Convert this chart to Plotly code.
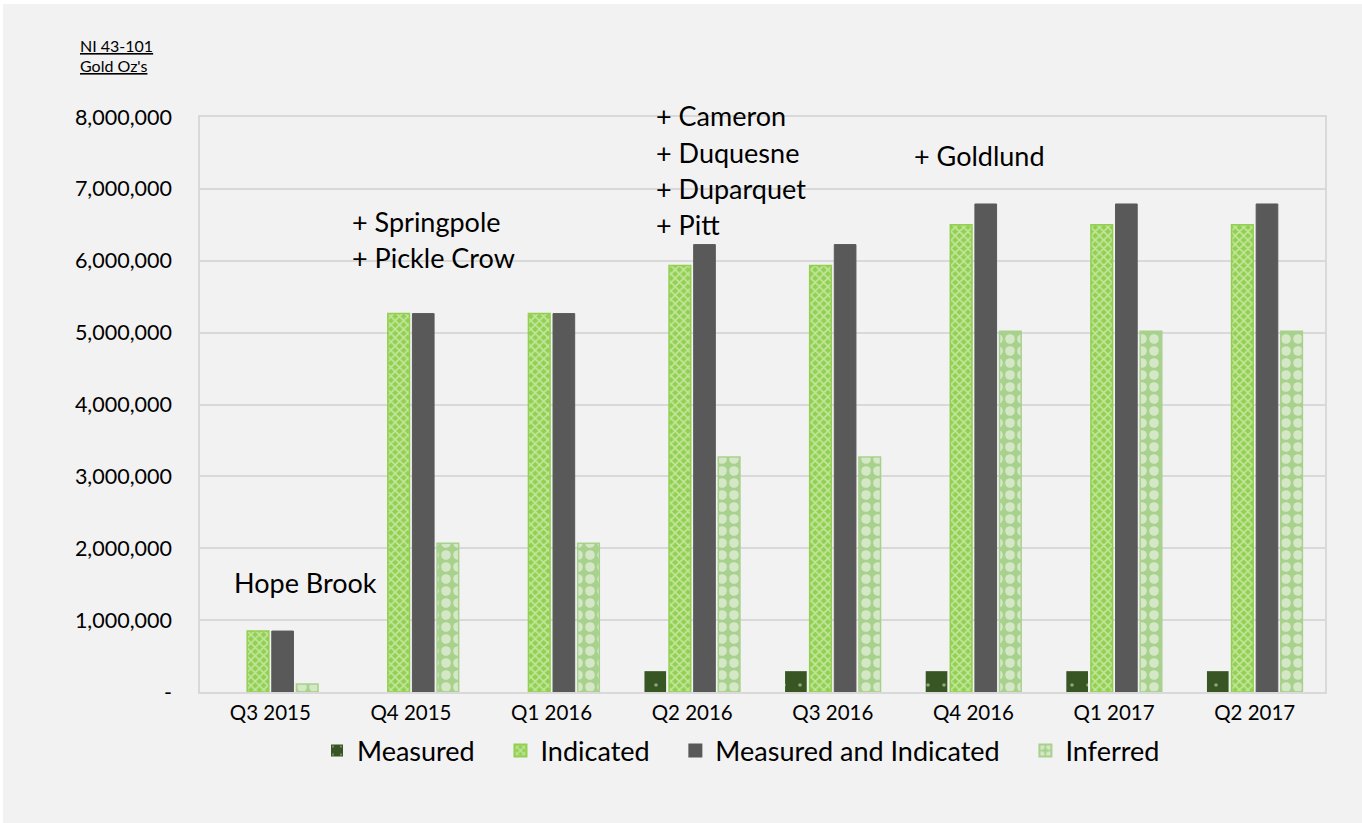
import plotly.graph_objects as go

categories = ["Q3 2015", "Q4 2015", "Q1 2016", "Q2 2016", "Q3 2016", "Q4 2016", "Q1 2017", "Q2 2017"]
measured = [0, 0, 0, 290000, 290000, 290000, 290000, 290000]
indicated = [848000, 5265000, 5265000, 5935000, 5935000, 6500000, 6500000, 6500000]
measured_indicated = [848000, 5265000, 5265000, 6225000, 6225000, 6790000, 6790000, 6790000]
inferred = [110000, 2070000, 2070000, 3270000, 3270000, 5020000, 5020000, 5020000]

ytick_vals = [0, 1000000, 2000000, 3000000, 4000000, 5000000, 6000000, 7000000, 8000000]
ytick_text = ["-", "1,000,000", "2,000,000", "3,000,000", "4,000,000", "5,000,000",
              "6,000,000", "7,000,000", "8,000,000"]

FONT = "Lato"
W, H = 1362, 823
L, R, T, B = 200, 37, 117, 131
PW, PH = W - L - R, H - T - B
PAD = "\u00a0" * 3  # spacing between legend entries

fig = go.Figure()
fig.add_trace(go.Bar(
    name="Measured" + PAD, x=categories, y=measured,
    marker=dict(color="#375623", line=dict(width=0),
                pattern=dict(shape=".", fgcolor="#e8efe0", bgcolor="#375623", size=16, solidity=0.04)),
))
fig.add_trace(go.Bar(
    name="Indicated" + PAD, x=categories, y=indicated,
    marker=dict(color="#92d050", line=dict(color="#92d050", width=1.5),
                pattern=dict(shape="x", fgcolor="#f6fbf0", bgcolor="#92d050", size=6, solidity=0.45)),
))
fig.add_trace(go.Bar(
    name="Measured and Indicated" + PAD, x=categories, y=measured_indicated,
    marker=dict(color="#595959", line=dict(color="#595959", width=1)),
))
fig.add_trace(go.Bar(
    name="Inferred", x=categories, y=inferred,
    marker=dict(color="#a9d18e", line=dict(color="#a9d18e", width=1.5),
                pattern=dict(shape=".", fgcolor="#ffffff", bgcolor="#a9d18e", size=12, solidity=0.5)),
))

def px_x(px):
    # pixel -> category index coordinate
    return (px - L) / (PW / len(categories)) - 0.5

def py_paper(py):
    return (T + PH - py) / PH

notes = [
    ("Hope Brook", 232, 582),
    ("+ Springpole", 350, 221),
    ("+ Pickle Crow", 350, 257),
    ("+ Cameron", 654, 116),
    ("+ Duquesne", 654, 152),
    ("+ Duparquet", 654, 188),
    ("+ Pitt", 654, 224),
    ("+ Goldlund", 912, 155),
]
for txt, px, py in notes:
    fig.add_annotation(x=px_x(px), y=py_paper(py), xref="x", yref="paper", text=txt,
                       showarrow=False, xanchor="left", yanchor="middle",
                       font=dict(family=FONT, size=27, color="#000000"))

fig.add_annotation(x=(78 - L) / PW, y=py_paper(45), xref="paper", yref="paper",
                   text="<u>NI 43-101</u>", showarrow=False, xanchor="left", yanchor="middle",
                   font=dict(family=FONT, size=16, color="#000000"))
fig.add_annotation(x=(78 - L) / PW, y=py_paper(66), xref="paper", yref="paper",
                   text="<u>Gold Oz's</u>", showarrow=False, xanchor="left", yanchor="middle",
                   font=dict(family=FONT, size=16, color="#000000"))

# background with thin white strips at top and left
fig.add_shape(type="rect", xref="paper", yref="paper", layer="below",
              x0=(3 - L) / PW, x1=(W + 5 - L) / PW, y0=py_paper(H + 5), y1=py_paper(4),
              fillcolor="#f2f2f2", line=dict(width=0))

fig.update_layout(
    width=W, height=H,
    margin=dict(l=L, r=R, t=T, b=B, pad=0),
    paper_bgcolor="#ffffff", plot_bgcolor="rgba(0,0,0,0)",
    barmode="group", bargap=0.3, bargroupgap=0.12,
    font=dict(family=FONT, color="#000000"),
    legend=dict(orientation="h", x=(317 - L) / PW, xanchor="left", y=py_paper(751),
                yanchor="middle", font=dict(family=FONT, size=27, color="#000000"),
                bgcolor="rgba(0,0,0,0)", itemsizing="constant", tracegroupgap=0),
    xaxis=dict(showgrid=False, showline=True, linecolor="#d9d9d9", linewidth=1.5, mirror=True,
               ticks="", tickfont=dict(family=FONT, size=20.5, color="#000000"),
               ticklabelstandoff=2),
    yaxis=dict(range=[0, 8000000], tickvals=ytick_vals, ticktext=ytick_text,
               showgrid=True, gridcolor="#d9d9d9", gridwidth=1.5,
               showline=True, linecolor="#d9d9d9", linewidth=1.5, mirror=True,
               zeroline=False, ticks="", tickfont=dict(family=FONT, size=21.5, color="#000000"),
               ticklabelstandoff=22),
)

fig.write_html("out.html")
